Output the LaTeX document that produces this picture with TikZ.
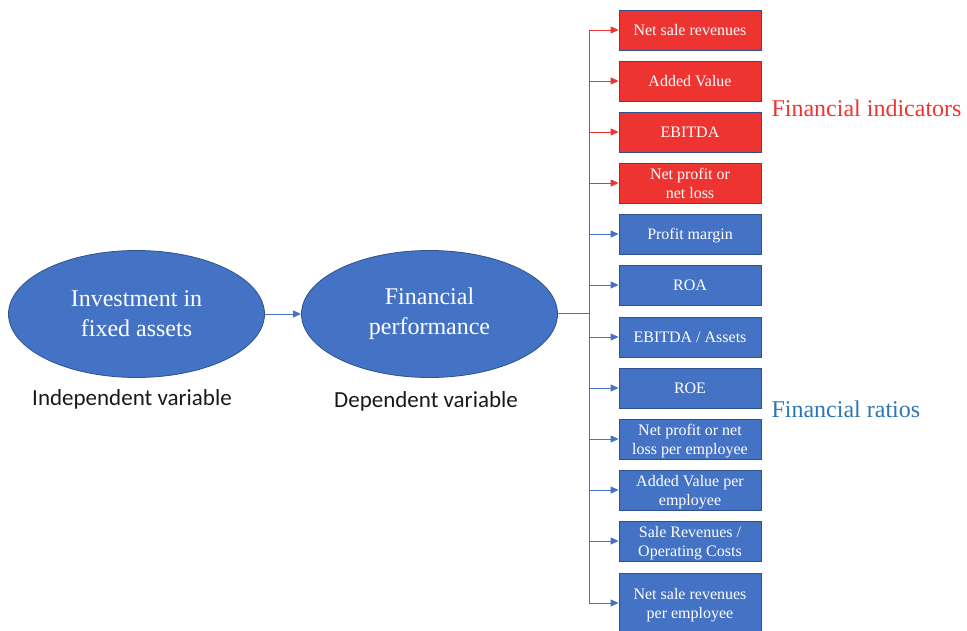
\documentclass[tikz,border=0pt]{standalone}
\usepackage{fontspec}
\setmainfont{Liberation Serif}
\newfontfamily\labelfont{Carlito}
\usetikzlibrary{arrows.meta,shapes.geometric}
\definecolor{bluefill}{HTML}{4472C4}
\definecolor{blueedge}{HTML}{2F528F}
\definecolor{redfill}{HTML}{EE3430}
\definecolor{redline}{HTML}{EE3430}
\definecolor{ratioblue}{HTML}{2E75B6}
\tikzset{
  oval/.style={ellipse, draw=blueedge, line width=0.8pt, fill=bluefill, text=white,
    minimum width=256pt, minimum height=127pt, inner sep=0pt, align=center,
    font=\fontsize{24}{30}\selectfont},
  varlabel/.style={font=\labelfont\fontsize{23}{26}\selectfont, text=black!90},
  itembox/.style={rectangle, draw=blueedge, line width=0.8pt, text=white,
    minimum width=142pt, minimum height=40pt, inner sep=0pt, align=center,
    text depth=0pt, font=\fontsize{16}{19}\selectfont},
  redbox/.style={itembox, fill=redfill},
  bluebox/.style={itembox, fill=bluefill},
  tip/.style={-{Triangle[length=8pt,width=7pt]}},
  redlink/.style={tip, draw=redline, line width=0.8pt},
  bluelink/.style={tip, draw=bluefill, line width=0.8pt},
  grouplabel/.style={anchor=west, font=\fontsize{24}{28}\selectfont},
}
\begin{document}
\begin{tikzpicture}[x=1pt,y=-1pt]
  \useasboundingbox (0,0) rectangle (967,631);

  % the two variables
  \node[oval] (e1) at (136.5,314) {Investment in\\fixed assets};
  \node[oval] (e2) at (429.5,314) {Financial\\performance};
  \node[varlabel] (l1) at (132,399) {Independent variable};
  \node[varlabel] (l2) at (426,401) {Dependent variable};
  \draw[bluelink] (e1.east) -- (e2.west);

  % financial indicators
  \node[redbox] (b1) at (690,30) {Net sale revenues};
  \node[redbox] (b2) at (690,81) {Added Value};
  \node[redbox] (b3) at (690,132) {EBITDA};
  \node[redbox] (b4) at (690,183) {Net profit or\\net loss};
  % financial ratios
  \node[bluebox] (b5) at (690,234) {Profit margin};
  \node[bluebox] (b6) at (690,285) {ROA};
  \node[bluebox] (b7) at (690,337) {EBITDA / Assets};
  \node[bluebox] (b8) at (690,388) {ROE};
  \node[bluebox] (b9) at (690,439) {Net profit or net\\loss per employee};
  \node[bluebox] (b10) at (690,490) {Added Value per\\employee};
  \node[bluebox] (b11) at (690,541) {Sale Revenues /\\Operating Costs};
  \node[bluebox, minimum height=60pt] (b12) at (690,603) {Net sale revenues\\per employee};

  \node[grouplabel, text=redline] (g1) at (768,108) {Financial indicators};
  \node[grouplabel, text=ratioblue] (g2) at (768,409) {Financial ratios};

  % tree connectors
  \coordinate (hub) at (589,313);
  \foreach \b in {b1,b2,b3,b4}
    \draw[redlink] (hub) |- (\b.west);
  \foreach \b in {b5,b6,b7,b8,b9,b10,b11,b12}
    \draw[bluelink] (hub) |- (\b.west);
  \draw[draw=redline!45!bluefill, line width=0.8pt] (e2.east |- hub) -- (hub);
\end{tikzpicture}
\end{document}
